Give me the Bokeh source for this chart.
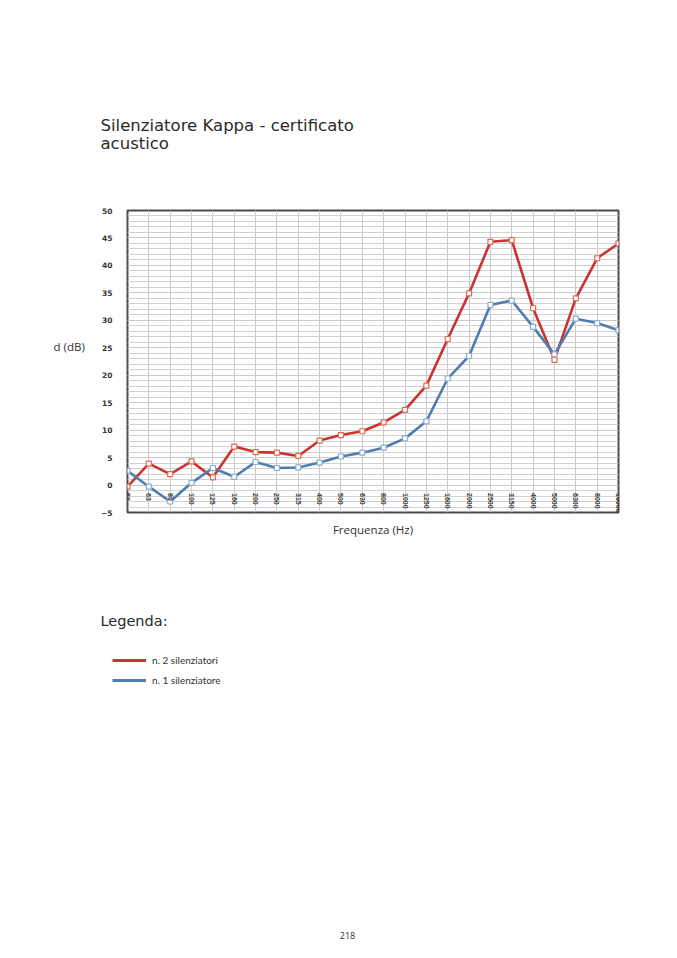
import math
from bokeh.plotting import figure
from bokeh.layouts import column, row
from bokeh.models import (Range1d, FixedTicker, SingleIntervalTicker, Label,
                          Legend, LegendItem, ColumnDataSource, LinearAxis)
from bokeh.embed import file_html
from bokeh.resources import INLINE

# ---- data ----
freqs = ["50", "63", "80", "100", "125", "160", "200", "250", "315", "400",
         "500", "630", "800", "1000", "1250", "1600", "2000", "2500", "3150",
         "4000", "5000", "6300", "8000", "10000"]
two_silencers = [-0.3, 3.9, 2.0, 4.3, 1.4, 7.0, 6.0, 5.9, 5.3, 8.1, 9.1, 9.8,
                 11.4, 13.7, 18.1, 26.6, 34.9, 44.3, 44.6, 32.2, 22.8, 34.0,
                 41.3, 44.0]
one_silencer = [2.6, -0.3, -3.0, 0.4, 3.1, 1.5, 4.2, 3.1, 3.2, 4.1, 5.2, 5.9,
                6.8, 8.5, 11.6, 19.4, 23.5, 32.8, 33.6, 28.8, 23.8, 30.3,
                29.5, 28.2]
series_names = ["n. 2 silenziatori", "n. 1 silenziatore"]
title_lines = ["Silenziatore Kappa - certificato", "acustico"]
y_label = "d (dB)"
x_label = "Frequenza (Hz)"

RED = "#cc3330"
BLUE = "#4f7db0"
W = 661
NAN = float("nan")


def blank(width, height, top, bottom):
    f = figure(width=width, height=height, output_backend="svg",
               toolbar_location=None, x_range=Range1d(0, width),
               y_range=Range1d(bottom, top), x_axis_location=None,
               y_axis_location=None, min_border=0)
    f.min_border_left = f.min_border_right = 0
    f.min_border_top = f.min_border_bottom = 0
    f.grid.visible = False
    f.outline_line_color = None
    f.background_fill_color = "white"
    f.border_fill_color = "white"
    return f


def lab(f, text, x, y, size, font="Open Sans", align="left", color="#333333"):
    f.add_layout(Label(x=x, y=y, text=text, text_font=font,
                       text_font_size=size, text_align=align,
                       text_baseline="middle", text_color=color))


# ---- top: title ----
top = blank(W, 180, 0, 180)
lab(top, title_lines[0], 100, 125, "16.5px", font="DejaVu Sans", color="#2a2a2a")
lab(top, title_lines[1], 100, 143, "16.5px", font="DejaVu Sans", color="#2a2a2a")

# ---- left strip: y label ----
left = blank(95, 365, 180, 545)
lab(left, y_label, 53, 344, "11.5px")

# ---- chart ----
idx = list(range(len(freqs)))
src = ColumnDataSource(dict(x=idx, red=two_silencers, blue=one_silencer))

p = figure(width=566, height=365, output_backend="svg", toolbar_location=None,
           x_range=Range1d(0, len(freqs) - 1), y_range=Range1d(-5, 50),
           min_border_left=32, min_border_right=43,
           min_border_top=30, min_border_bottom=33)
p.background_fill_color = "white"
p.border_fill_color = "white"
p.outline_line_color = "#4a4a4a"
p.outline_line_width = 2

xa = p.xaxis[0]
xa.ticker = FixedTicker(ticks=idx)
xa.major_label_overrides = {i: f for i, f in enumerate(freqs)}
xa.fixed_location = 0
xa.major_label_orientation = -math.pi / 2
xa.axis_line_color = None
xa.major_tick_line_color = None
xa.minor_tick_line_color = None
xa.major_label_standoff = 2
xa.major_label_text_font = "Liberation Sans"
xa.major_label_text_font_style = "bold"
xa.major_label_text_font_size = "7px"
xa.major_label_text_color = "#3a3a3a"

ya = p.yaxis[0]
ya.ticker = SingleIntervalTicker(interval=5, num_minor_ticks=5)
ya.axis_line_color = None
ya.major_tick_line_color = None
ya.minor_tick_line_color = None
ya.major_label_standoff = 9
ya.major_label_text_font = "DejaVu Sans"
ya.major_label_text_font_style = "bold"
ya.major_label_text_font_size = "7.5px"
ya.major_label_text_color = "#333333"

fa = LinearAxis(axis_label=x_label, ticker=FixedTicker(ticks=[]),
                axis_line_color=None, major_tick_line_color=None,
                minor_tick_line_color=None, major_tick_out=0,
                minor_tick_out=0, major_label_text_font_size="0px",
                axis_label_standoff=9, axis_label_text_font="Open Sans",
                axis_label_text_font_size="11.5px",
                axis_label_text_font_style="normal",
                axis_label_text_color="#333333")
p.add_layout(fa, "below")

p.xgrid.grid_line_color = "#c9c9c9"
p.ygrid.grid_line_color = "#c9c9c9"
p.ygrid.minor_grid_line_color = "#d2d2d2"

p.line("x", "red", source=src, line_color=RED, line_width=2.6)
p.scatter("x", "red", source=src, marker="square", size=5,
          fill_color="white", line_color="#e06a50", line_width=1.2)
p.line("x", "blue", source=src, line_color=BLUE, line_width=2.6)
p.scatter("x", "blue", source=src, marker="square", size=5,
          fill_color="white", line_color="#8aaed2", line_width=1.2)

# ---- bottom: legend and page number ----
bot = blank(W, 397, 545, 942)
lab(bot, "Legenda:", 100, 620, "14.5px", font="DejaVu Sans", color="#2a2a2a")
lab(bot, "218", 347, 935, "9px", align="center")
r1 = bot.line(x=[NAN], y=[NAN], line_color=RED, line_width=3)
r2 = bot.line(x=[NAN], y=[NAN], line_color=BLUE, line_width=3)
legend = Legend(items=[LegendItem(label=series_names[0], renderers=[r1]),
                       LegendItem(label=series_names[1], renderers=[r2])],
                location=(112, 255), padding=0, margin=0, spacing=6,
                glyph_width=34, glyph_height=14, label_height=14,
                label_standoff=6, label_text_font="Lato",
                label_text_font_size="10px", label_text_color="#333333",
                border_line_color=None, background_fill_alpha=0)
bot.add_layout(legend, "center")

layout = column(top, row(left, p), bot)
open("out.html", "w").write(file_html(layout, INLINE))
